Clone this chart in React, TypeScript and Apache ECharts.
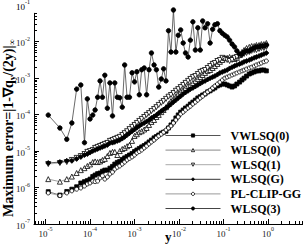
import React, { useEffect, useRef } from "react";
import * as echarts from "echarts";

const xs = [
  1.15e-5, 2.1e-5, 3.0e-5, 3.9e-5, 5.0e-5, 6.2e-5, 7.5e-5, 8.7e-5, 1.0e-4,
  1.15e-4, 1.3e-4, 1.48e-4, 1.68e-4, 1.9e-4, 2.15e-4, 2.45e-4, 2.8e-4, 3.2e-4, 3.6e-4, 4.1e-4, 4.65e-4, 5.3e-4, 6.0e-4, 6.8e-4, 7.7e-4, 8.8e-4,
  1.0e-3, 1.13e-3, 1.28e-3, 1.45e-3, 1.65e-3, 1.87e-3, 2.12e-3, 2.4e-3, 2.75e-3, 3.1e-3, 3.5e-3, 4.0e-3, 4.5e-3, 5.1e-3, 5.8e-3, 6.6e-3, 7.5e-3, 8.5e-3, 9.6e-3,
  1.09e-2, 1.24e-2, 1.4e-2, 1.6e-2, 1.8e-2, 2.05e-2, 2.33e-2, 2.65e-2, 3.0e-2, 3.4e-2, 3.85e-2, 4.4e-2, 5.0e-2, 5.7e-2, 6.4e-2, 7.3e-2, 8.3e-2, 9.4e-2,
  0.107, 0.121, 0.137, 0.156, 0.177, 0.2, 0.23, 0.26, 0.29, 0.33, 0.38, 0.43, 0.49, 0.55, 0.63, 0.71, 0.81, 0.92,
];

const vwlsq0 = [
  7.7e-7, 6.2e-7, 7.8e-7, 9.0e-7, 1.05e-6, 1.33e-6, 1.45e-6, 1.55e-6, 1.7e-6,
  2.0e-6, 2.2e-6, 2.4e-6, 2.5e-6, 2.8e-6, 3.0e-6, 3.0e-6, 3.4e-6, 3.8e-6, 4.4e-6, 4.9e-6, 5.2e-6, 5.9e-6, 6.5e-6, 7.1e-6, 7.8e-6, 8.6e-6,
  9.7e-6, 1.07e-5, 1.18e-5, 1.3e-5, 1.42e-5, 1.57e-5, 1.78e-5, 2.0e-5, 2.3e-5, 2.5e-5, 2.76e-5, 3.1e-5, 3.3e-5, 3.5e-5, 4.3e-5, 5.2e-5, 6.3e-5, 8.1e-5, 9.8e-5,
  1.17e-4, 1.34e-4, 1.52e-4, 1.7e-4, 1.95e-4, 2.2e-4, 2.5e-4, 2.86e-4, 3.1e-4, 3.45e-4, 3.7e-4, 4.2e-4, 4.5e-4, 5.0e-4, 5.4e-4, 6.1e-4, 6.5e-4, 6.9e-4,
  6.9e-4, 6.5e-4, 6.1e-4, 5.7e-4, 6.1e-4, 6.9e-4, 7.8e-4, 8.9e-4, 1.0e-3, 1.14e-3, 1.3e-3, 1.39e-3, 1.48e-3, 1.58e-3, 1.58e-3, 1.67e-3, 1.67e-3, 1.58e-3,
];

const wlsq0 = [
  1.7e-6, 1.45e-6, 1.7e-6, 2.0e-6, 2.5e-6, 3.0e-6, 3.4e-6, 3.9e-6, 4.3e-6,
  5.0e-6, 5.2e-6, 5.0e-6, 5.2e-6, 5.7e-6, 6.1e-6, 7.3e-6, 8.9e-6, 9.5e-6, 9.5e-6, 7.8e-6, 1.0e-5, 1.14e-5, 1.22e-5, 1.36e-5, 1.47e-5, 1.9e-5,
  2.6e-5, 2.9e-5, 3.3e-5, 3.5e-5, 3.9e-5, 4.3e-5, 5.2e-5, 6.3e-5, 7.1e-5, 8.6e-5, 9.8e-5, 1.17e-4, 1.34e-4, 1.6e-4, 1.95e-4, 2.35e-4, 2.7e-4, 3.1e-4, 3.7e-4,
  4.2e-4, 4.7e-4, 5.4e-4, 6.1e-4, 6.5e-4, 7.4e-4, 8.4e-4, 9.5e-4, 1.07e-3, 1.22e-3, 1.39e-3, 1.58e-3, 1.67e-3, 1.9e-3, 2.15e-3, 2.45e-3, 2.8e-3, 3.15e-3,
  3.6e-3, 3.6e-3, 3.8e-3, 3.6e-3, 3.35e-3, 3.6e-3, 4.3e-3, 5.2e-3, 5.9e-3, 6.7e-3, 7.2e-3, 7.6e-3, 7.6e-3, 8.1e-3, 8.1e-3, 8.6e-3, 8.6e-3, 9.2e-3,
];

const wlsq1 = [
  4.4e-6, 4.7e-6, 5.0e-6, 5.7e-6, 6.5e-6, 7.3e-6, 8.3e-6, 9.5e-6, 1.0e-5,
  1.07e-5, 1.22e-5, 1.3e-5, 1.38e-5, 1.47e-5, 1.57e-5, 1.67e-5, 1.9e-5, 2.0e-5, 2.15e-5, 2.3e-5, 2.45e-5, 2.76e-5, 3.1e-5, 3.5e-5, 4.0e-5, 4.6e-5,
  5.2e-5, 5.9e-5, 6.7e-5, 7.6e-5, 8.6e-5, 9.8e-5, 1.1e-4, 1.25e-4, 1.42e-4, 1.6e-4, 1.84e-4, 2.1e-4, 2.35e-4, 2.7e-4, 3.1e-4, 3.45e-4, 3.9e-4, 4.5e-4, 5.0e-4,
  5.7e-4, 6.5e-4, 7.4e-4, 8.4e-4, 9.5e-4, 1.07e-3, 1.14e-3, 1.3e-3, 1.48e-3, 1.58e-3, 1.67e-3, 1.9e-3, 2.15e-3, 2.45e-3, 2.6e-3, 2.95e-3, 3.15e-3, 3.6e-3,
  3.35e-3, 3.15e-3, 2.95e-3, 3.15e-3, 3.6e-3, 3.8e-3, 4.05e-3, 4.3e-3, 4.6e-3, 4.9e-3, 5.2e-3, 5.6e-3, 5.9e-3, 5.9e-3, 6.3e-3, 6.7e-3, 6.7e-3, 7.2e-3,
];

const wlsqG = [
  4.7e-6, 5.0e-6, 5.4e-6, 5.4e-6, 6.1e-6, 6.9e-6, 7.8e-6, 8.3e-6, 9.1e-6,
  1.0e-5, 1.07e-5, 1.14e-5, 1.22e-5, 1.3e-5, 1.38e-5, 1.47e-5, 1.67e-5, 1.7e-5, 1.78e-5, 1.9e-5, 2.0e-5, 2.2e-5, 2.45e-5, 2.76e-5, 3.1e-5, 3.5e-5,
  3.9e-5, 4.4e-5, 4.9e-5, 5.4e-5, 5.9e-5, 6.5e-5, 7.1e-5, 8.1e-5, 8.9e-5, 9.8e-5, 1.1e-4, 1.25e-4, 1.38e-4, 1.52e-4, 1.7e-4, 1.95e-4, 2.2e-4, 2.5e-4, 2.86e-4,
  3.2e-4, 3.7e-4, 4.05e-4, 4.5e-4, 5.0e-4, 5.4e-4, 5.9e-4, 6.5e-4, 7.1e-4, 7.8e-4, 8.4e-4, 9.2e-4, 1.0e-3, 1.07e-3, 1.14e-3, 1.25e-3, 1.39e-3, 1.48e-3,
  1.58e-3, 1.67e-3, 1.85e-3, 2.0e-3, 2.15e-3, 2.3e-3, 2.45e-3, 2.6e-3, 2.8e-3, 2.95e-3, 3.15e-3, 3.35e-3, 3.6e-3, 3.8e-3, 4.05e-3, 4.3e-3, 4.6e-3, 4.9e-3,
];

const plClipGG = [
  7.1e-7, 6.0e-7, 7.1e-7, 8.1e-7, 9.0e-7, 9.7e-7, 1.1e-6, 1.25e-6, 1.33e-6,
  1.5e-6, 1.45e-6, 1.5e-6, 1.83e-6, 2.1e-6, 1.7e-6, 1.95e-6, 2.35e-6, 2.65e-6, 3.2e-6, 3.6e-6, 3.9e-6, 4.4e-6, 5.0e-6, 5.7e-6, 6.3e-6, 6.9e-6,
  7.8e-6, 8.9e-6, 9.7e-6, 1.07e-5, 1.22e-5, 1.38e-5, 1.57e-5, 1.78e-5, 2.0e-5, 2.3e-5, 2.6e-5, 2.9e-5, 3.3e-5, 3.8e-5, 4.3e-5, 4.9e-5, 5.9e-5, 7.1e-5, 8.6e-5,
  1.04e-4, 1.17e-4, 1.34e-4, 1.52e-4, 1.7e-4, 1.95e-4, 2.2e-4, 2.5e-4, 2.86e-4, 3.2e-4, 3.7e-4, 4.2e-4, 4.7e-4, 5.4e-4, 6.1e-4, 6.9e-4, 7.8e-4, 8.9e-4,
  1.0e-3, 1.07e-3, 1.14e-3, 1.22e-3, 1.3e-3, 1.39e-3, 1.48e-3, 1.58e-3, 1.67e-3, 1.78e-3, 1.9e-3, 2.0e-3, 2.15e-3, 2.3e-3, 2.45e-3, 2.6e-3, 2.8e-3, 2.95e-3,
];

const wlsq3 = [
  9.7e-5, 4.3e-5, 2.1e-5, 5.9e-5, 5.0e-4, 6.5e-4, 1.7e-5, 2.7e-4, 7.6e-5,
  9.7e-5, 1.34e-4, 3.0e-4, 8.4e-4, 3.0e-4, 1.2e-3, 1.5e-4, 7.4e-4, 9.2e-5, 7.4e-4, 3.0e-4, 2.9e-4, 1.6e-4, 2.3e-3, 3.0e-4, 3.0e-4, 1.4e-3,
  7.9e-4, 1.5e-3, 3.5e-4, 1.7e-3, 1.9e-3, 3.5e-4, 1.7e-3, 4.9e-3, 2.3e-3, 1.7e-3, 5.7e-4, 9.5e-4, 1.8e-3, 8.4e-4, 2.0e-2, 5.2e-3, 7.4e-2, 5.2e-3, 1.5e-2,
  2.1e-2, 9.2e-3, 4.9e-3, 3.8e-3, 1.1e-2, 3.5e-2, 5.9e-3, 2.4e-2, 5.9e-3, 3.7e-2, 2.4e-2, 3.1e-2, 9.2e-3, 2.2e-2, 2.9e-2, 3.1e-2, 2.0e-2, 1.7e-2,
  1.5e-2, 1.35e-2, 1.1e-2, 8.6e-3, 7.2e-3, 5.6e-3, 4.6e-3, 4.6e-3, 5.2e-3, 5.6e-3, 5.6e-3, 6.3e-3, 6.7e-3, 7.2e-3, 7.2e-3, 7.6e-3, 7.6e-3, 8.1e-3, 7.2e-3,
];

const seriesNames = ["VWLSQ(0)", "WLSQ(0)", "WLSQ(1)", "WLSQ(G)", "PL-CLIP-GG", "WLSQ(3)"];
const xMajor = [1e-5, 1e-4, 1e-3, 1e-2, 1e-1, 1];
const yMajor = [1e-7, 1e-6, 1e-5, 1e-4, 1e-3, 1e-2];
const yTopLabel = 1e-1;
const xMin = 5.5e-6;
const xMax = 6;
const yMin = 1e-7;
const yMax = 0.06;

function minorTicks(lo: number, hi: number) {
  const out: number[] = [];
  for (let e = -8; e <= 1; e++) {
    for (let k = 2; k <= 9; k++) {
      const v = Number((k * Math.pow(10, e)).toPrecision(3));
      if (v >= lo && v <= hi) out.push(v);
    }
  }
  return out;
}

const SERIF = "'Liberation Serif', 'Times New Roman', serif";

const rich = {
  b: { fontFamily: SERIF, fontSize: 9, color: "#222", lineHeight: 12, verticalAlign: "bottom" },
  e: { fontFamily: SERIF, fontSize: 6, color: "#222", lineHeight: 12, verticalAlign: "top" },
};
const expFmt = (v: number) => `{b|10}{e|${Math.round(Math.log10(v))}}`;

const titleRich = {
  t: { fontFamily: SERIF, fontSize: 14, fontWeight: "bold", color: "#000", lineHeight: 16, verticalAlign: "middle" },
  s: { fontFamily: SERIF, fontSize: 9, fontWeight: "bold", color: "#000", lineHeight: 16, verticalAlign: "bottom" },
};

export default function App() {
  const ref = useRef<HTMLDivElement>(null);
  useEffect(() => {
    if (!ref.current) return;
    const chart = echarts.init(ref.current, undefined, { renderer: "svg" });
    const styles = [
      { symbol: "rect", size: 4, fill: "#000", line: "#555", rot: 0 },
      { symbol: "triangle", size: 5, fill: "#fff", line: "#888", rot: 0 },
      { symbol: "triangle", size: 5, fill: "#fff", line: "#aaa", rot: 180 },
      { symbol: "diamond", size: 5, fill: "#000", line: "#333", rot: 0 },
      { symbol: "circle", size: 4, fill: "#fff", line: "#999", rot: 0 },
      { symbol: "circle", size: 4.5, fill: "#000", line: "#444", rot: 0 },
    ];
    const datasets = [vwlsq0, wlsq0, wlsq1, wlsqG, plClipGG, wlsq3];
    const series = datasets.map((d, i) => ({
      name: seriesNames[i],
      type: "line",
      xAxisIndex: 0,
      yAxisIndex: 0,
      data: xs.map((x, j) => [x, d[j]]),
      symbol: styles[i].symbol,
      symbolSize: styles[i].size,
      symbolRotate: styles[i].rot,
      showAllSymbol: true,
      clip: false,
      lineStyle: { color: styles[i].line, width: 0.8 },
      itemStyle: { color: styles[i].fill, borderColor: "#000", borderWidth: 0.8 },
      emphasis: { disabled: true },
    }));
    const axisCommonX = {
      type: "log",
      logBase: 10,
      min: xMin,
      max: xMax,
      gridIndex: 0,
      position: "bottom",
      splitLine: { show: false },
    };
    const axisCommonY = {
      type: "log",
      logBase: 10,
      min: yMin,
      max: yMax,
      gridIndex: 0,
      position: "left",
      splitLine: { show: false },
    };
    chart.setOption({
      animation: false,
      backgroundColor: "#fff",
      grid: { left: 34, right: 2.4, top: 13.3, bottom: 20, containLabel: false, outerBoundsMode: "none" },
      xAxis: [
        {
          ...axisCommonX,
          axisLine: { show: true, lineStyle: { color: "#000", width: 1 } },
          axisTick: { show: true, inside: true, length: 5, customValues: xMajor, lineStyle: { color: "#000", width: 1 } },
          axisLabel: { show: true, customValues: xMajor, margin: 2, formatter: expFmt, rich },
          name: "y",
          nameLocation: "middle",
          nameGap: 7,
          nameMoveOverlap: false,
          nameTextStyle: { fontFamily: SERIF, fontSize: 13, fontWeight: "bold", color: "#000", lineHeight: 11 },
        },
        {
          ...axisCommonX,
          axisLine: { show: false },
          axisTick: { show: true, inside: true, length: 3, customValues: minorTicks(xMin, xMax), lineStyle: { color: "#000", width: 1 } },
          axisLabel: { show: false },
        },
      ],
      yAxis: [
        {
          ...axisCommonY,
          axisLine: { show: true, lineStyle: { color: "#000", width: 1 } },
          axisTick: { show: true, inside: true, length: 5, customValues: yMajor, lineStyle: { color: "#000", width: 1 } },
          axisLabel: { show: true, customValues: yMajor, margin: 4, formatter: expFmt, rich },
        },
        {
          ...axisCommonY,
          axisLine: { show: false },
          axisTick: { show: true, inside: true, length: 3, customValues: minorTicks(yMin, yMax), lineStyle: { color: "#000", width: 1 } },
          axisLabel: { show: false },
        },
      ],
      legend: {
        orient: "vertical",
        left: 165,
        top: 129,
        padding: 0,
        itemWidth: 55,
        itemHeight: 4,
        itemGap: 1.6,
        data: seriesNames,
        lineStyle: { width: 1 },
        itemStyle: { borderWidth: 0.8 },
        textStyle: { fontFamily: SERIF, fontSize: 12, fontWeight: "bold", color: "#000", lineHeight: 13, padding: [0, 0, 0, 5] },
      },
      series,
    });
    const p = chart.convertToPixel({ gridIndex: 0 }, [xMin, yTopLabel]) as number[];
    chart.setOption({
      graphic: [
        {
          type: "text",
          x: p[0] - 4,
          y: p[1],
          style: { text: expFmt(yTopLabel), rich, align: "right", verticalAlign: "middle" },
        },
        {
          type: "text",
          x: 8,
          y: 128,
          rotation: Math.PI / 2,
          style: {
            text: "{t|Maximum error=|1-∇q}{s|y}{t|/(2y)|}{s|∞}",
            rich: titleRich,
            align: "center",
            verticalAlign: "middle",
          },
        },
      ],
    });
    return () => chart.dispose();
  }, []);
  return <div ref={ref} style={{ position: "fixed", left: 0, top: 0, width: 305, height: 244 }} />;
}
